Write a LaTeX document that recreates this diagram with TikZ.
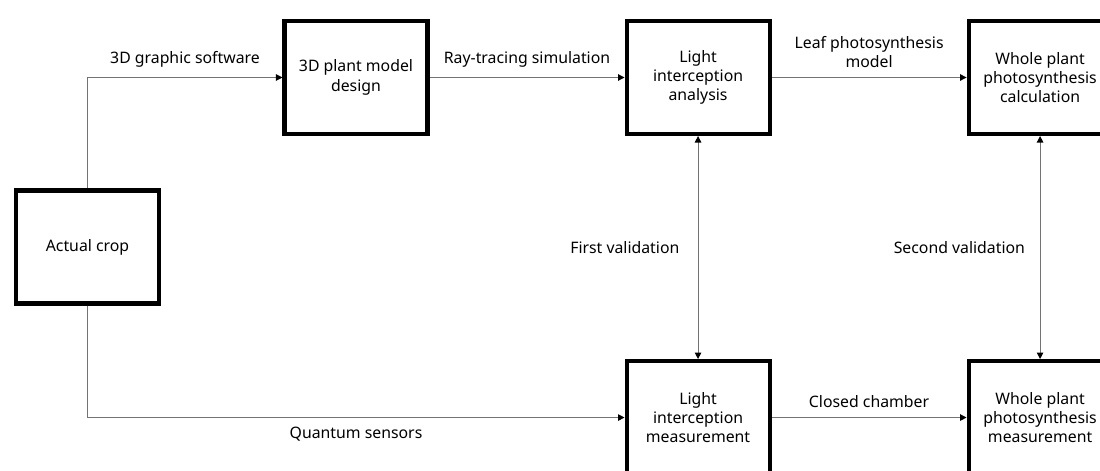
\documentclass[tikz,border=0pt]{standalone}
\usepackage{fontspec}
\setmainfont{Noto Sans}
\usetikzlibrary{arrows.meta, positioning}

\begin{document}
\begin{tikzpicture}[
  node distance=4.46cm and 3.9cm,
  box/.style={rectangle, draw=black, line width=2.3pt, minimum height=2.26cm, minimum width=2.86cm, align=center, font=\fontsize{9}{11}\selectfont},
  arrow/.style={-{Triangle[length=1.3mm, width=1.3mm, black]}, draw=black!55, line width=0.6pt},
  both/.style={{Triangle[length=1.3mm, width=1.3mm, black]}-{Triangle[length=1.3mm, width=1.3mm, black]}, draw=black!55, line width=0.6pt},
  lbl/.style={font=\fontsize{9}{11}\selectfont, text=black, align=center}
]
\useasboundingbox (0,0) rectangle (22,-9.42);

\node[box] (crop) at (1.75,-4.94) {Actual crop};
\node[box] (design) at (7.12,-1.55) {3D plant model\\design};
\node[box, right=of design] (analysis) {Light\\interception\\analysis};
\node[box, right=of analysis] (calc) {Whole plant\\photosynthesis\\calculation};
\node[box, below=of analysis] (measure) {Light\\interception\\measurement};
\node[box, below=of calc] (wholemeas) {Whole plant\\photosynthesis\\measurement};

\draw[arrow] (crop.north) |- node[lbl, pos=0.75, above=2pt] {3D graphic software} (design.west);
\draw[arrow] (crop.south) |- node[lbl, pos=0.75, below=2pt] {Quantum sensors} (measure.west);
\draw[arrow] (design) -- node[lbl, above=2pt] {Ray-tracing simulation} (analysis);
\draw[arrow] (analysis) -- node[lbl, above=2pt] {Leaf photosynthesis\\model} (calc);
\draw[arrow] (measure) -- node[lbl, above=2pt] {Closed chamber} (wholemeas);
\draw[both] (analysis) -- node[lbl, left=7pt] {First validation} (measure);
\draw[both] (calc) -- node[lbl, left=5pt] {Second validation} (wholemeas);

\end{tikzpicture}
\end{document}
